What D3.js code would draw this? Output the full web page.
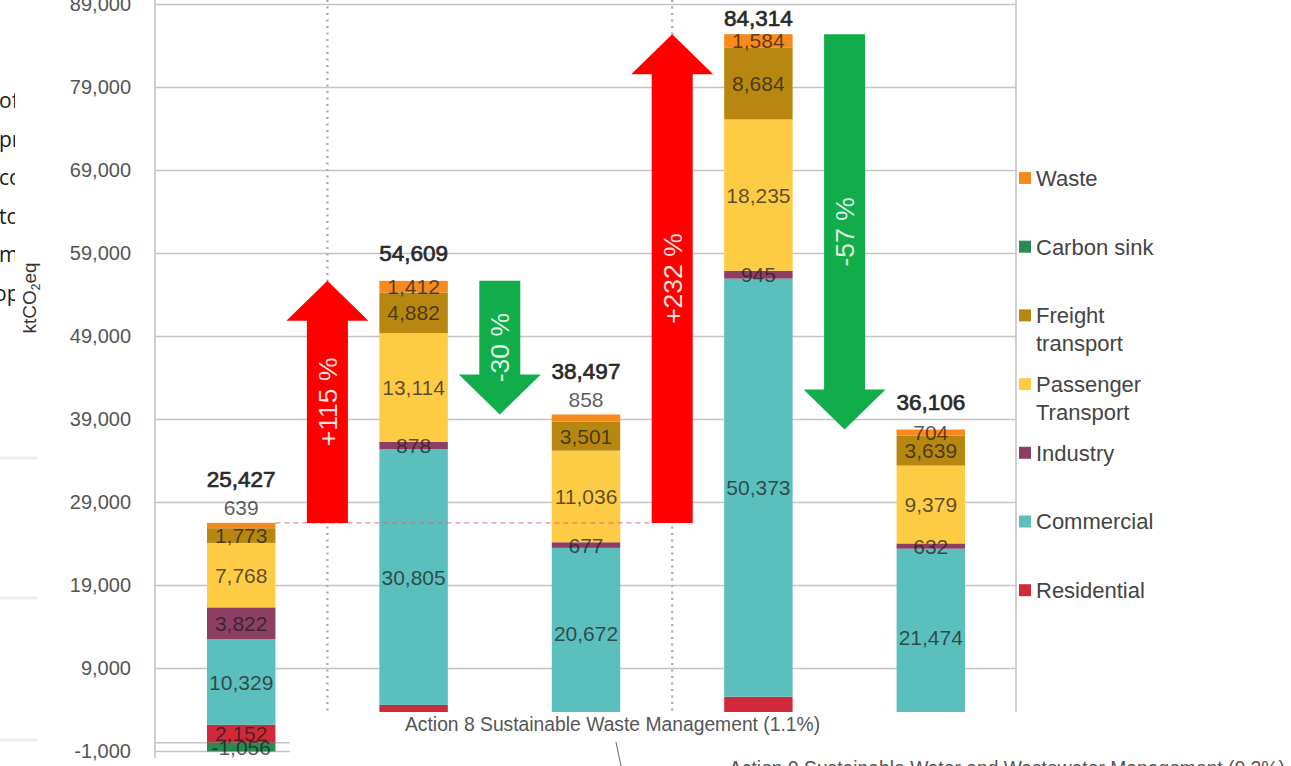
<!DOCTYPE html>
<html><head><meta charset="utf-8">
<script src="https://cdn.jsdelivr.net/npm/d3@7"></script>
<style>body{margin:0;background:#fff;overflow:hidden} svg{display:block}</style>
</head><body><svg id="c" width="1291" height="766"></svg>
<script>
// ---------------- DATA ----------------
const categories = ["Base year", "BAU 2030", "Plan 2030", "BAU 2050", "Plan 2050"];
const residential = [2152, 4551, 2800, 5540, 1900];
const commercial  = [10329, 30805, 20672, 50373, 21474];
const industry    = [3822, 878, 677, 945, 632];
const passenger   = [7768, 13114, 11036, 18235, 9379];
const freight     = [1773, 4882, 3501, 8684, 3639];
const carbonSink  = [-1056, -1033, -1047, -1047, -1622];
const waste       = [639, 1412, 858, 1584, 704];
const totals      = [25427, 54609, 38497, 84314, 36106];
const yTicks = [-1000, 9000, 19000, 29000, 39000, 49000, 59000, 69000, 79000, 89000];
const arrowLabels = ["+115 %", "-30 %", "+232 %", "-57 %"];
const arrowFrom   = [0, 1, 0, 3];
const arrowTo     = [1, 2, 3, 4];
const legendKeys   = ["waste", "carbonSink", "freight", "passenger", "industry", "commercial", "residential"];
const legendLabels = [["Waste"], ["Carbon sink"], ["Freight", "transport"], ["Passenger", "Transport"], ["Industry"], ["Commercial"], ["Residential"]];
const annotations = ["Action 8 Sustainable Waste Management (1.1%)", "Action 9 Sustainable Water and Wastewater Management (0.2%)"];
const sideFragments = ["of", "pr", "co", "to", "m", "op"];

// ---------------- STYLE ----------------
const colors = {
  residential: "#d02a3a", commercial: "#5bbfbd", industry: "#8c3f63",
  passenger: "#fecb45", freight: "#b8870f", carbonSink: "#2b8a52", waste: "#f78a1d"
};
const font = '"Liberation Sans", Arial, Helvetica, sans-serif';
const svg = d3.select("#c");
const L = 155, R = 1016;

const stackKeys = ["residential", "commercial", "industry", "passenger", "freight", "carbonSink", "waste"];
const series = {residential, commercial, industry, passenger, freight, carbonSink, waste};
const rows = categories.map((c, i) => {
  const o = {cat: c, i};
  stackKeys.forEach(k => o[k] = series[k][i]);
  return o;
});
const stacked = d3.stack().keys(stackKeys).offset(d3.stackOffsetDiverging)(rows);
const posTop = rows.map(r => stackKeys.reduce((s, k) => s + Math.max(0, r[k]), 0));

const y = d3.scaleLinear().domain([-1000, 89000]).range([751, 4]);
const x = d3.scaleBand().domain(categories).range([L, 1017]).paddingInner(0.603).paddingOuter(0.3015);
const bw = x.bandwidth();
const loc = d3.formatLocale({decimal: ".", thousands: ",", grouping: [3], currency: ["", ""], minus: "-"});
const fmt = loc.format(",");

// side fragments (cropped paragraph on the left)
const clip = svg.append("defs").append("clipPath").attr("id", "leftclip");
clip.append("rect").attr("x", 0).attr("y", 0).attr("width", 15).attr("height", 766);
const frag = svg.append("g").attr("clip-path", "url(#leftclip)");
frag.selectAll("text").data(sideFragments).join("text")
  .attr("x", (d, i) => i === 5 ? -6 : -1).attr("y", (d, i) => 108 + i * 38.5)
  .attr("font-family", '"Open Sans", sans-serif').attr("font-size", 21).attr("fill", "#1a1a1a")
  .text(d => d);
svg.append("g").selectAll("line").data([458, 598, 740]).join("line")
  .attr("x1", 0).attr("x2", 38).attr("y1", d => d).attr("y2", d => d)
  .attr("stroke", "#ececec").attr("stroke-width", 3);

// y axis + gridlines
const yAxis = d3.axisLeft(y).tickValues(yTicks).tickSize(-(R - L)).tickPadding(24).tickFormat(fmt);
const ga = svg.append("g").attr("transform", `translate(${L},0)`).call(yAxis);
ga.select(".domain").remove();
ga.selectAll(".tick line").attr("stroke", "#c4c4c4").attr("stroke-width", 1.6);
ga.selectAll(".tick text").attr("font-family", font).attr("font-size", 20).attr("fill", "#555");
svg.append("line").attr("x1", L).attr("x2", R).attr("y1", y(0)).attr("y2", y(0))
  .attr("stroke", "#c4c4c4").attr("stroke-width", 1.6);
svg.append("line").attr("x1", L).attr("x2", L).attr("y1", 0).attr("y2", 758)
  .attr("stroke", "#c4c4c4").attr("stroke-width", 1.6);
svg.append("line").attr("x1", R).attr("x2", R).attr("y1", 0).attr("y2", 766)
  .attr("stroke", "#c4c4c4").attr("stroke-width", 1.6);

// y label
svg.append("text").attr("transform", "translate(36,298) rotate(-90)")
  .attr("text-anchor", "middle").attr("font-family", font).attr("font-size", 19).attr("fill", "#333")
  .call(t => { t.append("tspan").text("ktCO");
               t.append("tspan").attr("font-size", 12).attr("dy", 4).text("2");
               t.append("tspan").attr("dy", -4).text("eq"); });

// arrow positions (between consecutive bars)
const gapX = i => (x(categories[i]) + bw + x(categories[i + 1])) / 2;
const arrowX = arrowTo.map(t => gapX(t - 1));

// dotted dividers through the red (increase) arrows
svg.append("g").selectAll("line").data(arrowX.filter((d, i) => arrowLabels[i][0] === "+")).join("line")
  .attr("x1", d => d).attr("x2", d => d).attr("y1", 0).attr("y2", 766)
  .attr("stroke", "#a8a8a8").attr("stroke-width", 2.2).attr("stroke-dasharray", "2,4.5");

// bars
const gBars = svg.append("g");
stacked.forEach(s => {
  gBars.append("g").attr("fill", colors[s.key]).selectAll("rect").data(s).join("rect")
    .attr("x", d => x(d.data.cat)).attr("width", bw)
    .attr("y", d => y(Math.max(d[0], d[1]))).attr("height", d => Math.abs(y(d[0]) - y(d[1])));
});

// segment labels
const wasteOutside = new Set([0, 2]);
const gLab = svg.append("g").attr("font-family", font).attr("font-size", 21).attr("text-anchor", "middle")
  .attr("fill", "#1b1b1b").attr("fill-opacity", 0.72);
stacked.forEach(s => {
  s.forEach(d => {
    const i = d.data.i;
    const v = d.data[s.key];
    let cy = (y(d[0]) + y(d[1])) / 2;
    if (s.key === "waste" && wasteOutside.has(i)) cy = y(posTop[i]) - 15;
    gLab.append("text").attr("x", x(d.data.cat) + bw / 2).attr("y", cy).attr("dy", "0.36em").text(fmt(v));
  });
});

// totals
svg.append("g").selectAll("text").data(totals).join("text")
  .attr("x", (d, i) => x(categories[i]) + bw / 2)
  .attr("y", (d, i) => Math.max(18, y(posTop[i]) - (wasteOutside.has(i) ? 44 : 28)))
  .attr("dy", "0.36em").attr("text-anchor", "middle")
  .attr("font-family", font).attr("font-size", 22.5).attr("fill", "#2a2a2a")
  .attr("stroke", "#2a2a2a").attr("stroke-width", 0.7)
  .text(d => fmt(d));

// dashed reference line at base-year level
svg.append("line").attr("x1", x(categories[0]) + bw).attr("x2", arrowX[2] - 21)
  .attr("y1", y(posTop[0])).attr("y2", y(posTop[0]))
  .attr("stroke", "#e06060").attr("stroke-opacity", 0.7).attr("stroke-width", 1.2).attr("stroke-dasharray", "5,4");

// arrows
function arrowPath(cx, y0, y1) {
  const d = Math.sign(y1 - y0), sw = 20.5, hw = 41, hl = 40, hb = y1 - d * hl;
  return `M${cx - sw},${y0}L${cx - sw},${hb}L${cx - hw},${hb}L${cx},${y1}L${cx + hw},${hb}L${cx + sw},${hb}L${cx + sw},${y0}Z`;
}
const gArr = svg.append("g");
arrowLabels.forEach((lab, k) => {
  const y0 = y(posTop[arrowFrom[k]]), y1 = y(posTop[arrowTo[k]]);
  const up = y1 < y0;
  gArr.append("path").attr("d", arrowPath(arrowX[k], y0, y1)).attr("fill", up ? "#fe0000" : "#11ad4b");
  gArr.append("text").attr("transform", `translate(${arrowX[k]},${(y0 + y1) / 2}) rotate(-90)`)
    .attr("text-anchor", "middle").attr("dy", "0.36em")
    .attr("font-family", font).attr("font-size", 26.5).attr("fill", "#fff").attr("fill-opacity", 0.88)
    .text(lab);
});

// overlaid annotation panel at the bottom
svg.append("rect").attr("x", 290).attr("y", 712).attr("width", 1001).attr("height", 60).attr("fill", "#fff");
svg.append("text").attr("x", 405).attr("y", 731).attr("font-family", font).attr("font-size", 19.3)
  .attr("fill", "#555").text(annotations[0]);
svg.append("line").attr("x1", 616).attr("y1", 742).attr("x2", 621).attr("y2", 766)
  .attr("stroke", "#666").attr("stroke-width", 1);
svg.append("text").attr("x", 729).attr("y", 775).attr("font-family", font).attr("font-size", 19.3)
  .attr("fill", "#555").text(annotations[1]);

// legend
const gLeg = svg.append("g").attr("font-family", font).attr("font-size", 22).attr("fill", "#444");
legendKeys.forEach((k, i) => {
  const cy = 178 + i * 68.7;
  gLeg.append("rect").attr("x", 1019).attr("y", cy - 6).attr("width", 12).attr("height", 12).attr("fill", colors[k]);
  legendLabels[i].forEach((ln, j) => {
    gLeg.append("text").attr("x", 1036).attr("y", cy + j * 28).attr("dy", "0.36em").text(ln);
  });
});
</script></body></html>
